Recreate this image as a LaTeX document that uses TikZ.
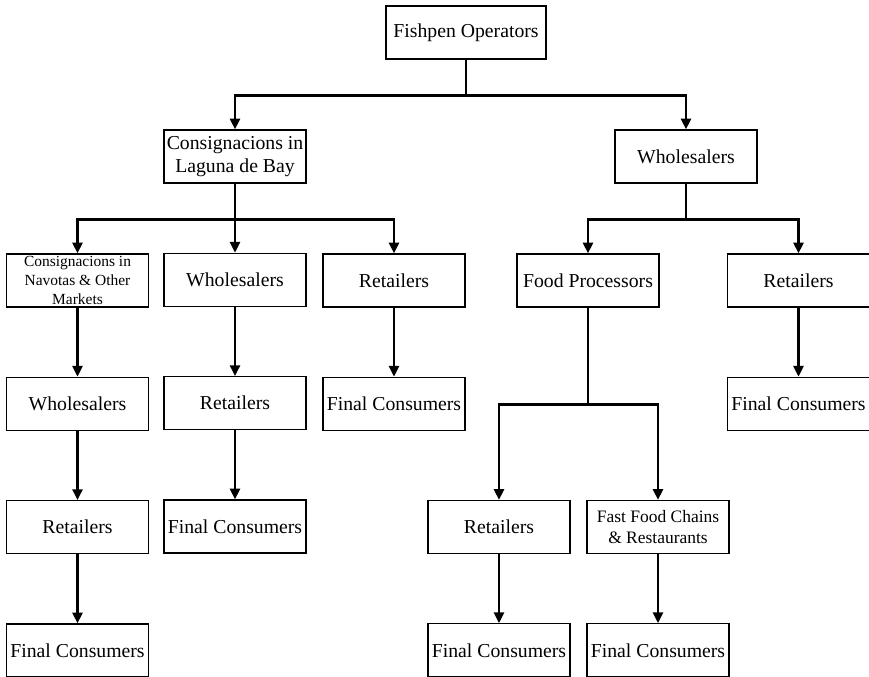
\documentclass[tikz,border=0pt]{standalone}
\usepackage{fontspec}
\setmainfont{Liberation Serif}
\usepackage{tikz}
\usetikzlibrary{arrows.meta, positioning}

\begin{document}
\begin{tikzpicture}[
    x=0.75pt, y=-0.75pt,
    node distance=51.75pt and 11.5pt,
    box/.style={rectangle, draw, line width=1pt, minimum width=106.5pt, minimum height=39.75pt, inner sep=1pt, align=center, font=\fontsize{14.8}{17.2}\selectfont},
    smallbox/.style={box, font=\fontsize{11.6}{14.3}\selectfont},
    midbox/.style={box, font=\fontsize{13.1}{15.8}\selectfont},
    arr/.style={-{Triangle[length=8pt, width=7.5pt]}, line width=1.8pt},
    link/.style={line width=1.8pt}
]
\useasboundingbox (0,0) rectangle (869,677);

\node[box, minimum width=120pt] (fish) at (466,32.5) {Fishpen Operators};
\node[box] (lag) at (235,156.5) {Consignacions in\\Laguna de Bay};
\node[box] (whl) at (686,156.5) {Wholesalers};

% Laguna de Bay branch
\node[box, below=of lag] (lagwhl) {Wholesalers};
\node[smallbox] (nav) at (77.5,280.5) {Consignacions in\\Navotas \& Other\\Markets};
\node[box] (lagret) at (394,280.5) {Retailers};

\node[box, below=of nav] (navwhl) {Wholesalers};
\node[box, below=of navwhl] (navret) {Retailers};
\node[box, below=of navret] (navfc) {Final Consumers};

\node[box, below=of lagwhl] (lagwhlret) {Retailers};
\node[box, below=of lagwhlret] (lagwhlfc) {Final Consumers};

\node[box, below=of lagret] (lagretfc) {Final Consumers};

% Wholesalers branch
\node[box] (fp) at (588,280.5) {Food Processors};
\node[box] (whlret) at (798.5,280.5) {Retailers};
\node[box, below=of whlret] (whlretfc) {Final Consumers};

\node[box] (fpret) at (499,527) {Retailers};
\node[midbox] (ffc) at (658,527) {Fast Food Chains\\\& Restaurants};
\node[box, below=of fpret] (fpretfc) {Final Consumers};
\node[box, below=of ffc] (ffcfc) {Final Consumers};

% connectors
\draw[link] (fish.south) -- ++(0,36) coordinate (fsplit);
\draw[arr] (fsplit) -| (lag.north);
\draw[arr] (fsplit) -| (whl.north);

\draw[link] (lag.south) -- ++(0,36) coordinate (lsplit);
\draw[arr] (lsplit) -| (nav.north);
\draw[arr] (lsplit) -- (lagwhl.north);
\draw[arr] (lsplit) -| (lagret.north);

\draw[link] (whl.south) -- ++(0,36) coordinate (wsplit);
\draw[arr] (wsplit) -| (fp.north);
\draw[arr] (wsplit) -| (whlret.north);

\draw[link] (fp.south) -- ++(0,97) coordinate (fsplit2);
\draw[arr] (fsplit2) -| (fpret.north);
\draw[arr] (fsplit2) -| (ffc.north);

\draw[arr] (nav) -- (navwhl);
\draw[arr] (navwhl) -- (navret);
\draw[arr] (navret) -- (navfc);
\draw[arr] (lagwhl) -- (lagwhlret);
\draw[arr] (lagwhlret) -- (lagwhlfc);
\draw[arr] (lagret) -- (lagretfc);
\draw[arr] (whlret) -- (whlretfc);
\draw[arr] (fpret) -- (fpretfc);
\draw[arr] (ffc) -- (ffcfc);

\end{tikzpicture}
\end{document}
